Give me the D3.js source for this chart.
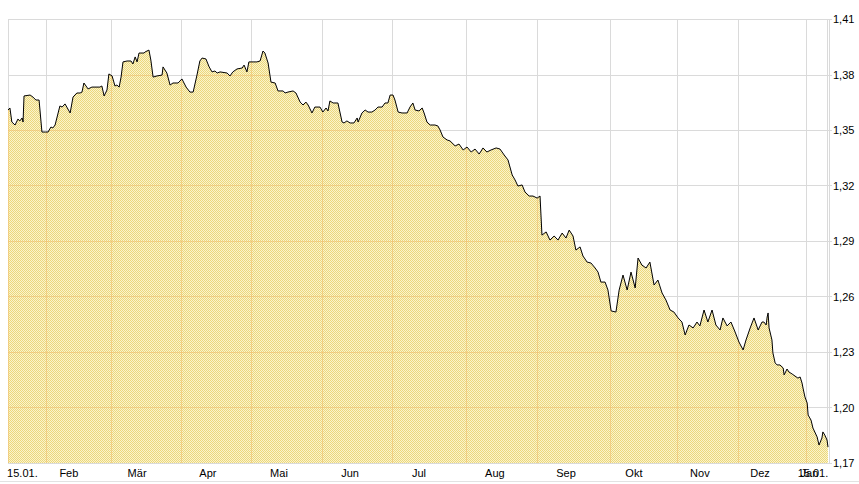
<!DOCTYPE html>
<html><head><meta charset="utf-8">
<script src="https://cdn.jsdelivr.net/npm/d3@7/dist/d3.min.js"></script>
<style>
html,body{margin:0;padding:0;background:#fff;}
svg{display:block;font-family:"Liberation Sans",Arial,sans-serif;}
</style></head><body>
<svg id="chart" width="859" height="484"></svg>
<script>
// trading-day index (x) and rate (y)
const days = [0,0.6,1.2,2.2,3.1,3.7,4.4,4.7,5.0,6.9,7.8,8.7,9.7,10.6,11.6,12.5,13.4,14.0,14.7,16.2,16.9,17.8,19.4,20.3,21.5,22.5,23.1,23.7,25.0,26.2,28.7,29.3,30.0,30.9,31.5,32.5,33.4,34.0,34.7,35.3,35.9,37.2,38.4,39.0,39.7,40.3,40.9,42.5,42.8,44.0,44.6,45.3,46.5,48.1,48.4,49.6,50.6,51.5,53.1,54.3,55.6,56.8,57.8,59.0,59.9,60.6,61.8,62.8,63.7,64.6,65.3,66.2,68.4,69.3,70.2,71.5,73.1,73.7,74.6,75.2,77.7,78.7,79.6,80.2,81.2,82.1,83.4,84.3,85.9,86.5,87.4,89.0,89.9,91.2,92.1,93.0,93.7,94.9,95.8,97.4,98.3,99.3,99.9,100.5,101.5,103.0,104.3,104.9,105.8,106.8,108.0,109.0,109.3,110.5,111.5,112.4,113.6,114.6,115.5,116.8,117.7,118.6,119.3,120.2,120.8,121.8,123.0,124.6,125.5,126.4,127.1,128.3,129.3,129.9,130.8,131.8,133.3,134.2,134.9,135.8,137.1,138.0,139.6,140.8,142.1,143.3,144.6,145.8,147.1,148.3,149.5,150.8,152.4,153.6,154.9,156.1,157.4,158.3,159.2,160.5,161.4,162.7,163.9,165.2,166.1,166.7,168.0,169.2,170.5,171.7,173.0,174.2,175.2,176.4,177.3,178.6,179.5,180.8,182.0,183.3,184.2,185.1,186.4,187.3,188.3,189.8,190.8,192.0,193.3,194.5,195.8,196.7,197.9,199.2,200.4,201.7,202.9,204.2,205.4,206.7,207.9,209.2,210.4,211.4,212.6,213.9,215.1,216.0,217.3,218.5,219.8,221.0,222.3,223.2,224.5,225.7,227.0,228.2,229.5,230.4,231.7,232.9,234.2,234.8,235.4,236.0,236.7,237.0,237.3,237.6,238.5,238.8,239.5,240.1,241.0,242.0,242.3,243.2,243.8,244.8,245.7,246.6,247.3,247.9,248.2,248.8,249.5,249.8,250.7,251.3,252.6,253.2,254.1,254.4,255.0,255.7,256.0];
const rates = [1.3608,1.3619,1.3543,1.3527,1.3559,1.3549,1.3565,1.3543,1.3684,1.3689,1.3678,1.3662,1.3662,1.3489,1.3489,1.3489,1.3516,1.3511,1.3527,1.3630,1.3624,1.3641,1.3592,1.3678,1.3700,1.3700,1.3705,1.3754,1.3722,1.3732,1.3732,1.3738,1.3684,1.3716,1.3803,1.3792,1.3738,1.3743,1.3732,1.3786,1.3868,1.3873,1.3873,1.3857,1.3895,1.3868,1.3916,1.3916,1.3922,1.3932,1.3878,1.3786,1.3792,1.3797,1.3841,1.3808,1.3743,1.3754,1.3754,1.3776,1.3732,1.3705,1.3705,1.3797,1.3873,1.3889,1.3884,1.3841,1.3814,1.3819,1.3808,1.3814,1.3808,1.3792,1.3814,1.3830,1.3835,1.3851,1.3814,1.3868,1.3868,1.3873,1.3927,1.3916,1.3862,1.3759,1.3754,1.3711,1.3711,1.3700,1.3705,1.3711,1.3700,1.3651,1.3635,1.3651,1.3635,1.3592,1.3624,1.3624,1.3597,1.3619,1.3603,1.3657,1.3646,1.3646,1.3543,1.3538,1.3549,1.3538,1.3538,1.3565,1.3543,1.3592,1.3608,1.3597,1.3597,1.3608,1.3624,1.3624,1.3646,1.3646,1.3689,1.3689,1.3662,1.3597,1.3592,1.3592,1.3624,1.3646,1.3608,1.3603,1.3619,1.3592,1.3543,1.3527,1.3527,1.3522,1.3500,1.3462,1.3446,1.3441,1.3414,1.3424,1.3392,1.3408,1.3381,1.3397,1.3370,1.3403,1.3381,1.3392,1.3403,1.3397,1.3365,1.3338,1.3257,1.3230,1.3197,1.3203,1.3165,1.3143,1.3143,1.3132,1.3143,1.2932,1.2949,1.2905,1.2927,1.2905,1.2943,1.2916,1.2959,1.2927,1.2851,1.2868,1.2819,1.2786,1.2781,1.2754,1.2732,1.2678,1.2678,1.2635,1.2522,1.2516,1.2635,1.2716,1.2635,1.2732,1.2646,1.2808,1.2770,1.2754,1.2786,1.2662,1.2689,1.2619,1.2581,1.2527,1.2516,1.2484,1.2462,1.2392,1.2446,1.2430,1.2462,1.2441,1.2527,1.2462,1.2527,1.2446,1.2419,1.2484,1.2441,1.2462,1.2408,1.2354,1.2311,1.2365,1.2430,1.2484,1.2419,1.2441,1.2462,1.2462,1.2446,1.2489,1.2511,1.2430,1.2365,1.2295,1.2241,1.2230,1.2230,1.2214,1.2176,1.2208,1.2192,1.2181,1.2170,1.2159,1.2165,1.2132,1.2105,1.2057,1.2024,1.1959,1.1932,1.1889,1.1841,1.1797,1.1835,1.1868,1.1851,1.1824,1.1786];

// month boundaries (trading-day index) for vertical grid lines
const monthStarts = [12,32,54,76,98,120,143,165,188,209,228,249];
// x-axis tick labels and their positions (trading-day index)
const xLabels = ["15.01.","Feb","Mär","Apr","Mai","Jun","Jul","Aug","Sep","Okt","Nov","Dez","Jan","15.01."];
const xLabelPos = [4.5,19,40.3,62.4,84.6,106.8,128.3,152,174.2,195.4,216,234.8,250.2,251.3];
// y-axis ticks
const yTicks = [1.17,1.20,1.23,1.26,1.29,1.32,1.35,1.38,1.41];

const svg = d3.select("#chart");
const x = d3.scaleLinear().domain([0,256]).range([8,828]);
const y = d3.scaleLinear().domain([1.17,1.41]).range([463,19]);
const fmt = v => d3.format(".2f")(v).replace(".", ",");

const data = days.map((d,i)=>({d, v:rates[i]}));

// pattern (dithered yellow fill)
const defs = svg.append("defs");
const pat = defs.append("pattern").attr("id","dither").attr("width",2).attr("height",2)
  .attr("patternUnits","userSpaceOnUse");
pat.append("rect").attr("width",2).attr("height",2).attr("fill","#faf4cc");
pat.append("rect").attr("x",0).attr("y",0).attr("width",1).attr("height",1).attr("fill","#ecd77c");
pat.append("rect").attr("x",1).attr("y",1).attr("width",1).attr("height",1).attr("fill","#ecd77c");

const area = d3.area().x(d=>x(d.d)).y0(y(1.17)).y1(d=>y(d.v));
const line = d3.line().x(d=>x(d.d)).y(d=>y(d.v));

defs.append("clipPath").attr("id","areaClip").append("path").attr("d", area(data));

function drawGrid(g, color, op){
  g.selectAll("line.h").data(yTicks).join("line").attr("class","h")
    .attr("x1",8).attr("x2",832).attr("y1",d=>Math.round(y(d))+0.5).attr("y2",d=>Math.round(y(d))+0.5)
    .attr("stroke",color).attr("stroke-opacity",op).attr("shape-rendering","crispEdges");
  g.selectAll("line.v").data([0].concat(monthStarts)).join("line").attr("class","v")
    .attr("x1",d=>Math.round(x(d))+0.5).attr("x2",d=>Math.round(x(d))+0.5)
    .attr("y1",19).attr("y2",463)
    .attr("stroke",color).attr("stroke-opacity",op).attr("shape-rendering","crispEdges");
}

const gGrid = svg.append("g");
drawGrid(gGrid, "#dadada", 1);
// right frame lines
gGrid.selectAll("line.r").data([827.5,829.5]).join("line").attr("class","r")
  .attr("x1",d=>d).attr("x2",d=>d).attr("y1",19).attr("y2",463)
  .attr("stroke","#dadada").attr("shape-rendering","crispEdges");

svg.append("path").attr("d", area(data)).attr("fill","url(#dither)");

const gGrid2 = svg.append("g").attr("clip-path","url(#areaClip)");
drawGrid(gGrid2, "#f0c070", 0.6);

svg.append("path").attr("d", line(data)).attr("fill","none")
  .attr("stroke","#000").attr("stroke-width",1).attr("stroke-linejoin","round");

// y labels
svg.append("g").selectAll("text").data(yTicks).join("text")
  .attr("x",833).attr("y",d=>y(d)+4).attr("font-size",11).attr("fill","#000")
  .text(d=>fmt(d));

// x labels
svg.append("g").selectAll("text").data(xLabels).join("text")
  .attr("x",(d,i)=>x(xLabelPos[i])).attr("y",477).attr("text-anchor","middle")
  .attr("font-size",11).attr("fill","#000").text(d=>d);

// bottom line
svg.append("line").attr("x1",0).attr("x2",859).attr("y1",481.5).attr("y2",481.5)
  .attr("stroke","#e2e2e2");
</script>
</body></html>
